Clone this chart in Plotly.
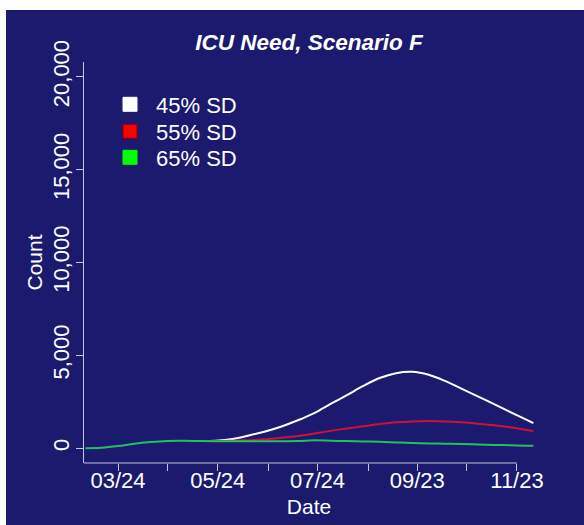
import plotly.graph_objects as go
import pandas as pd

# ---- data ----
green_dates = ["2020-03-04", "2020-03-14", "2020-03-24", "2020-04-03", "2020-04-13", "2020-04-23",
               "2020-05-03", "2020-05-13", "2020-05-23", "2020-06-02", "2020-06-12", "2020-06-22",
               "2020-07-02", "2020-07-12", "2020-07-22", "2020-08-01", "2020-08-11", "2020-08-21",
               "2020-08-31", "2020-09-10", "2020-09-20", "2020-09-30", "2020-10-10", "2020-10-20",
               "2020-10-30", "2020-11-09", "2020-11-19", "2020-11-29", "2020-12-03"]
sd65 = [0, 20, 110, 240, 330, 390, 400, 385, 375, 370, 370, 370, 375, 380, 420, 400, 380, 360,
        340, 310, 280, 255, 240, 225, 200, 175, 150, 130, 125]

late_dates = green_dates[7:]
sd45 = [385, 400, 490, 680, 900, 1170, 1500, 1890, 2380, 2860, 3350, 3780, 4040, 4110, 3950,
        3620, 3210, 2790, 2370, 1940, 1520, 1350]
sd55 = [385, 390, 400, 430, 480, 560, 660, 790, 930, 1060, 1180, 1300, 1390, 1440, 1460, 1440,
        1390, 1320, 1230, 1120, 980, 920]

series_names = ["45% SD", "55% SD", "65% SD"]
series_colors = ["#ffffff", "#ff0000", "#00ff00"]
line_colors = ["#ffffff", "#d0103a", "#22c060"]

x_tick_vals = ["2020-03-24", "2020-04-23", "2020-05-24", "2020-06-24", "2020-07-24",
               "2020-08-24", "2020-09-23", "2020-10-23", "2020-11-23"]
x_tick_text = ["03/24", "", "05/24", "", "07/24", "", "09/23", "", "11/23"]
y_tick_vals = [0, 5000, 10000, 15000, 20000]

# ---- geometry ----
W, H = 584, 525
L, R, T, B = 84, 50, 62, 62
PW, PH = W - L - R, H - T - B
NAVY = "#1b1a6f"
AX = "#c4c4dc"
FONT = "Liberation Sans, Arial, sans-serif"

def px(xp):
    return (xp - L) / PW

def py(yp):
    return (H - B - yp) / PH

ref = pd.Timestamp("2020-03-24")
x_range = [ref - pd.Timedelta(days=20.8), ref + pd.Timedelta(days=254.4)]

fig = go.Figure()
fig.add_trace(go.Scatter(x=late_dates, y=sd45, mode="lines", line=dict(color=line_colors[0], width=2, shape="spline"),
                         showlegend=False, hoverinfo="skip"))
fig.add_trace(go.Scatter(x=late_dates, y=sd55, mode="lines", line=dict(color=line_colors[1], width=2, shape="spline"),
                         showlegend=False, hoverinfo="skip"))
fig.add_trace(go.Scatter(x=green_dates, y=sd65, mode="lines", line=dict(color=line_colors[2], width=2, shape="spline"),
                         showlegend=False, hoverinfo="skip"))

legend_rows = [104.5, 131.5, 157.5]
legend_keys = ["legend", "legend2", "legend3"]
legend_layout = {}
for name, col, key, row in zip(series_names, series_colors, legend_keys, legend_rows):
    fig.add_trace(go.Scatter(x=[None], y=[None], mode="markers", name=name, legend=key,
                             marker=dict(symbol="square", size=14, color=col,
                                         line=dict(width=1, color="#8b0000" if col == "#ff0000" else col))))
    legend_layout[key] = dict(x=px(104), y=py(row), xanchor="left", yanchor="middle",
                              bgcolor="rgba(0,0,0,0)", itemwidth=42,
                              font=dict(size=22, color="white", family=FONT))

shapes = [
    # white page strips (top and left)
    dict(type="rect", xref="paper", yref="paper", x0=px(-5), x1=px(W + 5), y0=py(10), y1=py(-5),
         fillcolor="white", line=dict(width=0), layer="above"),
    dict(type="rect", xref="paper", yref="paper", x0=px(-5), x1=px(6), y0=py(H + 5), y1=py(-5),
         fillcolor="white", line=dict(width=0), layer="above"),
    # x axis line from left edge to last tick
    dict(type="line", xref="x", yref="paper", x0=x_range[0], x1=x_tick_vals[-1], y0=0, y1=0,
         line=dict(color=AX, width=1)),
]

fig.update_layout(
    width=W, height=H,
    margin=dict(l=L, r=R, t=T, b=B, autoexpand=False),
    paper_bgcolor=NAVY, plot_bgcolor=NAVY,
    font=dict(family=FONT, color="white", size=22),
    title=dict(text="<b><i>ICU Need, Scenario F</i></b>", x=px(309), xref="paper", xanchor="center",
               y=1 - 42 / H, yref="container", yanchor="middle",
               font=dict(family=FONT, size=22.5, color="white")),
    xaxis=dict(type="date", range=x_range, tickvals=x_tick_vals, ticktext=x_tick_text,
               showgrid=False, zeroline=False, showline=False,
               ticks="outside", ticklen=7, tickcolor=AX, tickwidth=1,
               ticklabelstandoff=-9,
               tickfont=dict(size=22, color="white"),
               title=dict(text="Date", font=dict(size=21, color="white"), standoff=6)),
    yaxis=dict(range=[-800, 20800], tickvals=y_tick_vals, tickformat=",",
               showgrid=False, zeroline=False, showline=True, linecolor=AX, linewidth=1,
               ticks="outside", ticklen=7, tickcolor=AX, tickwidth=1, tickangle=-90,
               ticklabelstandoff=-2,
               tickfont=dict(size=22, color="white"),
               title=dict(text="Count", font=dict(size=21, color="white"), standoff=0)),
    shapes=shapes,
    **legend_layout,
)

fig.write_html("out.html", config={"displayModeBar": False},
               post_script="document.body.style.margin='0';document.body.style.overflow='hidden';")
